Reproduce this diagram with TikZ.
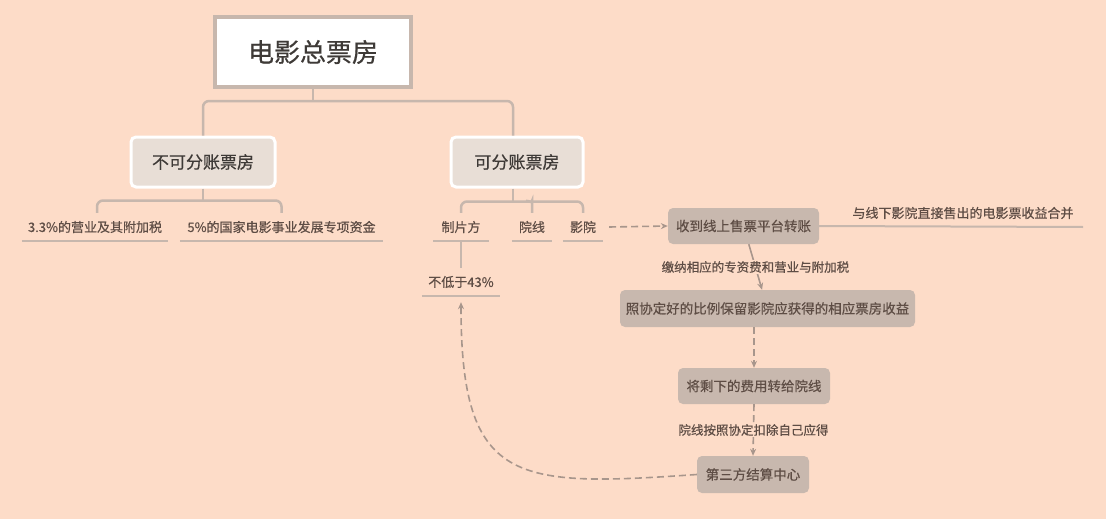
\documentclass[tikz,border=0pt]{standalone}
\usepackage{fontspec}
\setmainfont[FakeBold=0.5]{Noto Sans CJK SC}
\usetikzlibrary{arrows.meta}
\definecolor{bg}{HTML}{FDDCC8}
\definecolor{rim}{HTML}{C7B7AD}
\definecolor{boxfill}{HTML}{C8B8AE}
\definecolor{softfill}{HTML}{E8DED6}
\definecolor{ink}{HTML}{3E3A37}
\definecolor{brown}{HTML}{5E4D45}
\definecolor{dashc}{HTML}{A8968C}

\begin{document}
\begin{tikzpicture}[x=1pt,y=-1pt,
  rootbox/.style={draw=rim, line width=4pt, fill=white, minimum width=196pt, minimum height=70pt, font=\fontsize{26}{30}\selectfont, text=ink},
  sidebox/.style={draw=white, line width=3pt, fill=softfill, rounded corners=5pt, minimum height=50pt, font=\fontsize{17}{20}\selectfont, text=ink},
  leaf/.style={minimum height=28pt, inner sep=0pt, font=\fontsize{13}{15}\selectfont, text=brown},
  procbox/.style={fill=boxfill, rounded corners=5pt, minimum height=36pt, inner sep=0pt, font=\fontsize{13.5}{16}\selectfont, text=brown},
  note/.style={fill=bg, inner sep=1pt, font=\fontsize{12.5}{15}\selectfont, text=brown},
  link/.style={draw=rim, line width=2.5pt, rounded corners=6pt},
  uline/.style={draw=rim, line width=2pt},
  flow/.style={draw=dashc, line width=1.6pt, -{Stealth[length=7pt,width=6pt]}},
  dflow/.style={flow, dash pattern=on 7pt off 4pt}]

\fill[bg] (0,0) rectangle (1106,519);
\useasboundingbox (0,0) rectangle (1106,519);

\node[rootbox] (root) at (313,52) {电影总票房};
\node[sidebox, minimum width=144pt] (nb) at (203,162) {不可分账票房};
\node[sidebox, minimum width=132pt] (kb) at (517,162) {可分账票房};

\node[leaf, minimum width=146pt] (l1) at (95,227) {3.3\%的营业及其附加税};
\node[leaf, minimum width=203pt] (l2) at (281.5,227) {5\%的国家电影事业发展专项资金};

\node[leaf, minimum width=55pt] (zp) at (461,227) {制片方};
\node[leaf, minimum width=40pt] (yx) at (532,227) {院线};
\node[leaf, minimum width=40pt] (ys) at (583,227) {影院};
\node[leaf, minimum width=78pt] (bd) at (461,282) {不低于43\%};

\node[procbox, minimum width=151pt] (sd) at (743.5,226) {收到线上售票平台转账};
\node[procbox, minimum width=295pt, minimum height=37pt] (hb) at (767.5,308.5) {照协定好的比例保留影院应获得的相应票房收益};
\node[procbox, minimum width=152pt] (jx) at (754,386) {将剩下的费用转给院线};
\node[procbox, minimum width=112pt, minimum height=37pt] (js) at (753,474.5) {第三方结算中心};

\coordinate (mend) at (1083,227);
\node[note, font=\fontsize{13}{15}\selectfont] (hbl) at (963,213) {与线下影院直接售出的电影票收益合并};

% tree
\draw[link] (root.south) -- ([yshift=-12pt]root.south);
\draw[link] (nb.north) |- ([yshift=-12pt]root.south) -| ([xshift=-4pt]kb.north);
\draw[link] (nb.south) -- ([yshift=-12pt]nb.south);
\draw[link] ([xshift=2pt]l1.north) |- ([yshift=-12pt]nb.south) -| (l2.north);
\draw[link] ([xshift=-4pt]kb.south) -- ([xshift=-4pt,yshift=-13pt]kb.south);
\draw[link] (zp.north) |- ([xshift=-4pt,yshift=-13pt]kb.south) -| (ys.north);
\draw[link] (yx.north) -- ++(0,-6) arc[start angle=0, end angle=90, radius=6pt];

\foreach \n in {l1,l2,zp,yx,ys,bd}
  \draw[uline] (\n.south west) -- (\n.south east);
\draw[uline] (zp.south) -- (bd.north);

% flow
\draw[dflow] ([xshift=6pt]ys.east) -- (sd.west);
\draw[uline] (sd.east) -- (mend);
\draw[flow] (sd) -- node[note] (t1) {缴纳相应的专资费和营业与附加税} (hb);
\draw[dflow] (hb.south -| jx.north) -- (jx.north);
\draw[dflow] (jx.south) -- node[note] (t2) {院线按照协定扣除自己应得} (js.north);
\draw[dflow] (js.west) to[out=184, in=-90, looseness=1.6] ([yshift=-6pt]bd.south);
\end{tikzpicture}
\end{document}
